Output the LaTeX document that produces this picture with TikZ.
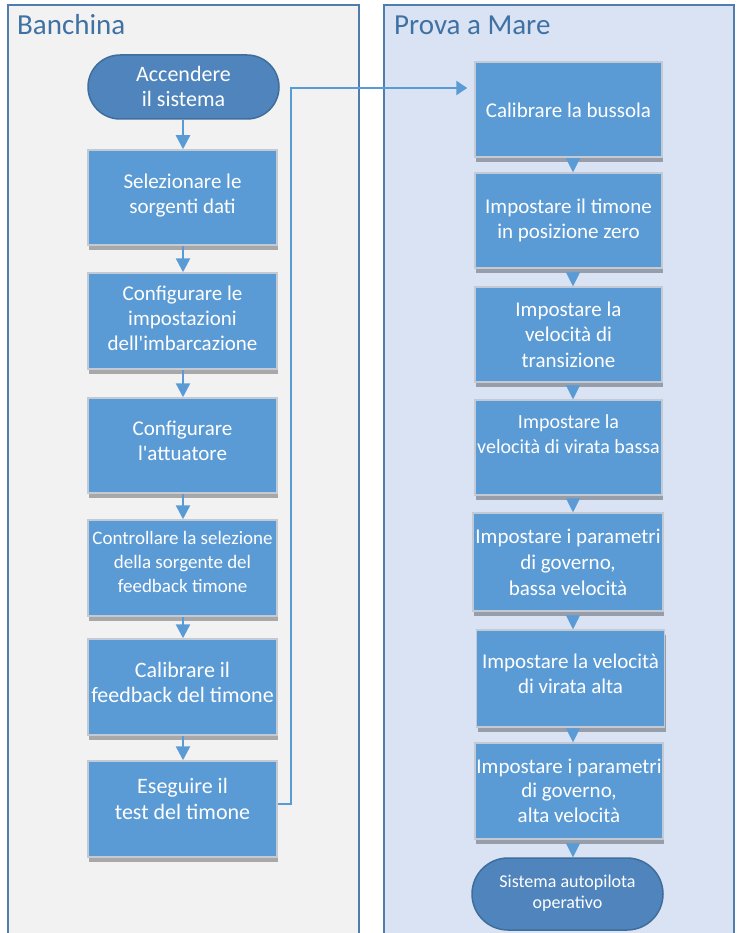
\documentclass[tikz,border=0pt]{standalone}
\usepackage{fontspec}
\setmainfont{Carlito}[Ligatures=TeXOff]
\usetikzlibrary{arrows.meta,shadows,backgrounds,shapes.misc}
\definecolor{panelline}{HTML}{4E7DAE}
\definecolor{leftbg}{HTML}{F2F2F2}
\definecolor{rightbg}{HTML}{DAE3F3}
\definecolor{boxfill}{HTML}{5B9BD5}
\definecolor{boxedge}{HTML}{C3CAD3}
\definecolor{termfill}{HTML}{4F84BD}
\definecolor{termedge}{HTML}{3F6D9C}
\definecolor{titlecol}{HTML}{3F71A4}
\definecolor{conncol}{HTML}{5B9BD5}
\begin{document}
\begin{tikzpicture}[x=1pt,y=-1pt,
  panel/.style={draw=panelline,line width=2pt},
  titletext/.style={text=titlecol,inner sep=0pt,anchor=base west,font=\fontsize{29}{34}\selectfont},
  stepbox/.style={draw=boxedge,line width=1.5pt,fill=boxfill,inner sep=0pt,
    minimum width=189pt,minimum height=95pt,
    drop shadow={shadow xshift=1pt,shadow yshift=-5pt,opacity=0.3,fill=black}},
  termbox/.style={rounded rectangle,draw=termedge,line width=1.5pt,fill=termfill,inner sep=0pt,
    minimum width=191pt,minimum height=64pt},
  txtnode/.style={text=white,align=center,inner sep=0pt,anchor=north},
  arrL/.style={draw=conncol,line width=2.5pt,-{Triangle[length=14pt,width=14pt]}},
  arrR/.style={draw=conncol,fill=conncol,line width=0.6pt,shorten <=3pt,-{Triangle[length=14pt,width=14pt]}},
  conn/.style={draw=conncol,line width=2.5pt,-{Triangle[length=11pt,width=14pt]}}]
\useasboundingbox (0,0) rectangle (739,933);
\begin{scope}[on background layer]
\fill[white] (0,0) rectangle (739,933);
\draw[panel,fill=leftbg] (8,5) rectangle (359,950);
\draw[panel,fill=rightbg] (384,5) rectangle (734,950);
\end{scope}
\node[titletext] (h1) at (17,35) {Banchina};
\node[titletext] (h2) at (394,35) {Prova a Mare};

% left column
\node[termbox] (T1) at (183.5,87) {};
\node[stepbox] (B1) at (182.5,197.5) {};
\node[stepbox,minimum height=96pt] (B2) at (182.5,321) {};
\node[stepbox] (B3) at (182.5,445.5) {};
\node[stepbox,minimum height=96pt] (B4) at (182.5,568) {};
\node[stepbox,minimum height=96pt] (B5) at (182.5,687) {};
\node[stepbox,minimum height=96pt] (B6) at (182.5,809) {};

% right column
\node[stepbox,minimum width=187pt] (R1) at (568.5,109.5) {};
\node[stepbox,minimum width=187pt] (R2) at (568.5,220.5) {};
\node[stepbox,minimum width=187pt] (R3) at (568.5,334.5) {};
\node[stepbox,minimum width=187pt] (R4) at (568.5,447.5) {};
\node[stepbox,minimum width=190pt,minimum height=98pt] (R5) at (568,562) {};
\node[stepbox,minimum width=188pt,minimum height=97pt] (R6) at (570.5,678.5) {};
\node[stepbox,minimum width=188pt,minimum height=96pt] (R7) at (569,791) {};
\node[termbox,minimum height=72pt] (T2) at (567.5,894) {};

% texts
\node[txtnode,font=\fontsize{22}{25}\selectfont] (tT1) at (183.5,63.5) {\strut Accendere\\il sistema};
\node[txtnode,font=\fontsize{21}{25}\selectfont] (tB1) at (182.5,170.5) {\strut Selezionare le\\sorgenti dati};
\node[txtnode,font=\fontsize{21}{25}\selectfont] (tB2) at (182.5,282.5) {\strut Configurare le\\impostazioni\\dell'imbarcazione};
\node[txtnode,font=\fontsize{21}{25.5}\selectfont] (tB3) at (182.5,417.2) {\strut Configurare\\l'attuatore};
\node[txtnode,font=\fontsize{19}{24}\selectfont] (tB4) at (182.5,527.2) {\strut Controllare la selezione\\della sorgente del\\feedback timone};
\node[txtnode,font=\fontsize{22}{25}\selectfont] (tB5) at (182.5,659.5) {\strut Calibrare il\\feedback del timone};
\node[txtnode,font=\fontsize{22}{26}\selectfont] (tB6) at (182.5,774.8) {\strut Eseguire il\\test del timone};

\node[txtnode,font=\fontsize{21}{25}\selectfont] (tR1) at (568.5,99.5) {\strut Calibrare la bussola};
\node[txtnode,font=\fontsize{21}{25}\selectfont] (tR2) at (568.5,195.5) {\strut Impostare il timone\\in posizione zero};
\node[txtnode,font=\fontsize{21}{25.5}\selectfont] (tR3) at (568.5,298.2) {\strut Impostare la\\velocità di\\transizione};
\node[txtnode,font=\fontsize{20}{25}\selectfont] (tR4) at (568.5,410.5) {\strut Impostare la\\velocità di virata bassa};
\node[txtnode,font=\fontsize{21}{26}\selectfont] (tR5) at (568,524.8) {\strut Impostare i parametri\\di governo,\\bassa velocità};
\node[txtnode,font=\fontsize{21}{25}\selectfont] (tR6) at (570.5,650.5) {\strut Impostare la velocità\\di virata alta};
\node[txtnode,font=\fontsize{21}{24.5}\selectfont] (tR7) at (569,755.9) {\strut Impostare i parametri\\di governo,\\alta velocità};
\node[txtnode,font=\fontsize{18}{21}\selectfont] (tT2) at (567.5,872.3) {\strut Sistema autopilota\\operativo};

% left arrows
\draw[arrL] (T1.south -| 183,0) -- (B1.north -| 183,0);
\draw[arrL] (B1.south -| 183,0) -- (B2.north -| 183,0);
\draw[arrL] (B2.south -| 183,0) -- (B3.north -| 183,0);
\draw[arrL] (B3.south -| 183,0) -- (B4.north -| 183,0);
\draw[arrL] (B4.south -| 183,0) -- (B5.north -| 183,0);
\draw[arrL] (B5.south -| 183,0) -- (B6.north -| 183,0);

% right arrows
\draw[arrR] (R1.south -| 573,0) -- (R2.north -| 573,0);
\draw[arrR] (R2.south -| 573,0) -- (R3.north -| 573,0);
\draw[arrR] (R3.south -| 573,0) -- (R4.north -| 573,0);
\draw[arrR] (R4.south -| 573,0) -- (R5.north -| 573,0);
\draw[arrR] (R5.south -| 573,0) -- (R6.north -| 573,0);
\draw[arrR] (R6.south -| 573,0) -- (R7.north -| 573,0);
\draw[arrR] (R7.south -| 573,0) -- (T2.north -| 573,0);

% long connector
\coordinate (k1) at (291,804);
\coordinate (k2) at (291,88);
\draw[conn] ([yshift=5pt]B6.east) -- (k1) -- (k2) -- ([xshift=-7pt,yshift=21.5pt]R1.west);
\end{tikzpicture}
\end{document}
